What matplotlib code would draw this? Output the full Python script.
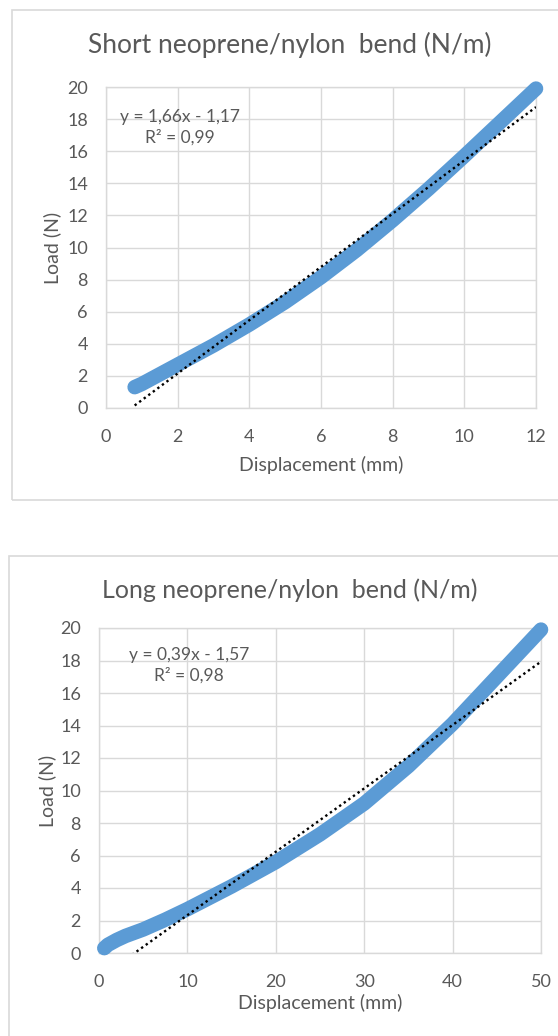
import matplotlib
matplotlib.use("Agg")
import matplotlib.pyplot as plt
from matplotlib.patches import Rectangle
import numpy as np

plt.rcParams['font.family'] = ['Lato', 'DejaVu Sans']

# ---- data ----
short_disp = [0.8, 1, 2, 3, 4, 5, 6, 7, 8, 9, 10, 11, 12]
short_load = [1.3, 1.5, 2.7, 3.9, 5.2, 6.6, 8.15, 9.85, 11.7, 13.65, 15.7, 17.8, 19.9]
short_slope, short_icept = 1.66, -1.17
short_eq = "y = 1,66x - 1,17\nR² = 0,99"

long_disp = [0.6, 1, 2, 3, 5, 7.5, 10, 15, 20, 25, 30, 35, 40, 45, 50]
long_load = [0.3, 0.5, 0.8, 1.05, 1.45, 2.05, 2.7, 4.1, 5.6, 7.3, 9.2, 11.5, 14.1, 17.0, 19.9]
long_slope, long_icept = 0.39, -1.57
long_eq = "y = 0,39x - 1,57\nR² = 0,98"

titles = ["Short neoprene/nylon  bend (N/m)", "Long neoprene/nylon  bend (N/m)"]
x_label = "Displacement (mm)"
y_label = "Load (N)"
short_xticks = [0, 2, 4, 6, 8, 10, 12]
long_xticks = [0, 10, 20, 30, 40, 50]
y_ticks = [0, 2, 4, 6, 8, 10, 12, 14, 16, 18, 20]

W, H = 558, 1036
fig = plt.figure(figsize=(W / 100, H / 100), dpi=100)
fig.patch.set_facecolor('white')

TXT = '#595959'
GRID = '#D9D9D9'
BLUE = '#5B9BD5'

# chart borders
fig.patches.append(Rectangle((11.5 / W, 1 - 500 / H), 560 / W, 490 / H,
                             transform=fig.transFigure, fill=False,
                             edgecolor=GRID, lw=1.2))
fig.patches.append(Rectangle((9.3 / W, 1 - 1040 / H), 560 / W, 484 / H,
                             transform=fig.transFigure, fill=False,
                             edgecolor=GRID, lw=1.2))


def make(ax_px, xs, ys, slope, icept, eq, eq_pos, xticks, title, title_y,
         title_size, xlabel_y, ylabel_x):
    l, t, r, b = ax_px
    ax = fig.add_axes([l / W, 1 - b / H, (r - l) / W, (b - t) / H])
    ax.set_xlim(xticks[0], xticks[-1])
    ax.set_ylim(0, 20)
    ax.set_xticks(xticks)
    ax.set_yticks(y_ticks)
    ax.grid(True, color=GRID, lw=1.0)
    ax.set_axisbelow(True)
    for s in ax.spines.values():
        s.set_color(GRID)
        s.set_linewidth(1.0)
    ax.tick_params(length=0, labelsize=13, colors=TXT)
    ax.tick_params(axis='x', pad=15)
    ax.tick_params(axis='y', pad=13)
    ax.plot(xs, ys, color=BLUE, lw=10.5, solid_capstyle='round',
            solid_joinstyle='round', clip_on=False, zorder=3)
    tx = np.array([min(xs), max(xs)])
    ax.plot(tx, slope * tx + icept, color='black', lw=1.7,
            linestyle=(0, (1, 1.4)), zorder=4)
    ax.text(eq_pos[0], eq_pos[1], eq, ha='center', va='center',
            color=TXT, fontsize=12.5, linespacing=1.3, zorder=5)
    fig.text(290 / W, 1 - title_y / H, title, ha='center', va='center',
             fontsize=title_size, color=TXT)
    fig.text((l + r) / 2 / W, 1 - xlabel_y / H, x_label, ha='center',
             va='center', fontsize=14, color=TXT)
    fig.text(ylabel_x / W, 1 - (t + b) / 2 / H, y_label, ha='center',
             va='center', rotation=90, fontsize=14, color=TXT)
    return ax


make((106, 87, 536, 408), short_disp, short_load, short_slope, short_icept,
     short_eq, (2.07, 17.5), short_xticks, titles[0], 45, 19, 465, 52)
make((99, 628, 541, 953), long_disp, long_load, long_slope, long_icept,
     long_eq, (10.2, 17.7), long_xticks, titles[1], 590, 18, 1003, 47)

fig.savefig('out.png', dpi=100, facecolor='white')
